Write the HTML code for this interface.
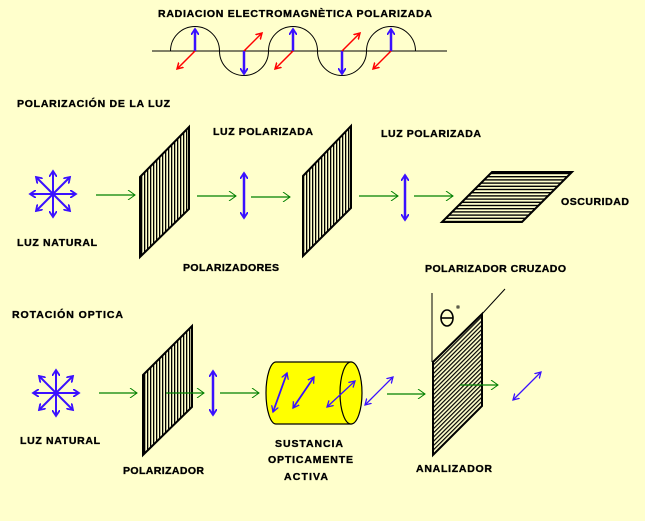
<!DOCTYPE html>
<html><head><meta charset="utf-8"><style>
html,body{margin:0;padding:0;background:#FFFFCC;}
svg{display:block;}
text{font-family:"Liberation Sans",sans-serif;font-weight:bold;font-size:10.5px;fill:#000;stroke:#000;stroke-width:0.35;}
</style></head><body>
<svg width="645" height="521" viewBox="0 0 645 521" xmlns="http://www.w3.org/2000/svg">
<defs>
<pattern id="vl" width="3" height="10" patternUnits="userSpaceOnUse"><rect x="0" y="0" width="1.3" height="10" fill="#000"/></pattern>
<pattern id="hl" width="10" height="3.2" patternUnits="userSpaceOnUse"><rect x="0" y="0" width="10" height="1.4" fill="#000"/></pattern>
<pattern id="dl" width="3" height="3" patternUnits="userSpaceOnUse" patternTransform="rotate(-45)"><rect x="0" y="0" width="3" height="1.2" fill="#000"/></pattern>
<marker id="ga" markerWidth="10" markerHeight="10" refX="8" refY="5" orient="auto" markerUnits="userSpaceOnUse"><path d="M1,0 L8,5 L1,10" fill="none" stroke="#008000" stroke-width="1"/></marker>
<marker id="ba" markerWidth="8" markerHeight="8" refX="6" refY="4" orient="auto-start-reverse" markerUnits="userSpaceOnUse"><path d="M0,0 L6,4 L0,8" fill="none" stroke="#3A10FF" stroke-width="1.8"/></marker>
<marker id="bt" markerWidth="8" markerHeight="8" refX="6" refY="4" orient="auto-start-reverse" markerUnits="userSpaceOnUse"><path d="M0,0.5 L6,4 L0,7.5" fill="none" stroke="#3A10FF" stroke-width="1.3"/></marker>
<marker id="ra" markerWidth="8" markerHeight="8" refX="6" refY="4" orient="auto" markerUnits="userSpaceOnUse"><path d="M0,0.5 L6,4 L0,7.5" fill="none" stroke="#FF0000" stroke-width="1.5"/></marker>
<g id="star" stroke="#3A10FF" stroke-width="2">
<line x1="-23" y1="0" x2="23" y2="0" marker-start="url(#ba)" marker-end="url(#ba)"/>
<line x1="0" y1="-23" x2="0" y2="23" marker-start="url(#ba)" marker-end="url(#ba)"/>
<line x1="-17" y1="-17" x2="17" y2="17" marker-start="url(#ba)" marker-end="url(#ba)"/>
<line x1="-17" y1="17" x2="17" y2="-17" marker-start="url(#ba)" marker-end="url(#ba)"/>
</g>
</defs>

<text x="158" y="17" textLength="274">RADIACION ELECTROMAGNÈTICA POLARIZADA</text>
<line x1="152" y1="51" x2="447" y2="51" stroke="#000" stroke-width="1"/>
<path d="M170.5,51 A24.5,24.5 0 0 1 219.5,51 A24.5,24.5 0 0 0 268.5,51 A24.5,24.5 0 0 1 317.5,51 A24.5,24.5 0 0 0 366.5,51 A24.5,24.5 0 0 1 415.5,51" fill="none" stroke="#000" stroke-width="1"/>
<g stroke="#3A10FF" stroke-width="2.5">
<line x1="195" y1="51" x2="195" y2="29" marker-end="url(#ba)"/>
<line x1="244" y1="51" x2="244" y2="74" marker-end="url(#ba)"/>
<line x1="293" y1="51" x2="293" y2="29" marker-end="url(#ba)"/>
<line x1="342" y1="51" x2="342" y2="74" marker-end="url(#ba)"/>
<line x1="391" y1="51" x2="391" y2="29" marker-end="url(#ba)"/>
</g>
<g stroke="#FF0000" stroke-width="1.5">
<line x1="195" y1="51" x2="177" y2="69" marker-end="url(#ra)"/>
<line x1="244" y1="51" x2="262" y2="33" marker-end="url(#ra)"/>
<line x1="293" y1="51" x2="275" y2="69" marker-end="url(#ra)"/>
<line x1="342" y1="51" x2="360" y2="33" marker-end="url(#ra)"/>
<line x1="391" y1="51" x2="373" y2="69" marker-end="url(#ra)"/>
</g>

<text x="17" y="107" textLength="153">POLARIZACIÓN DE LA LUZ</text>
<use href="#star" x="53" y="194"/>
<text x="17" y="246" textLength="80">LUZ NATURAL</text>
<g stroke="#008000" stroke-width="1.2">
<line x1="96" y1="195" x2="135" y2="195" marker-end="url(#ga)"/>
<line x1="197" y1="196" x2="236" y2="196" marker-end="url(#ga)"/>
<line x1="251" y1="197" x2="290" y2="197" marker-end="url(#ga)"/>
<line x1="359" y1="196" x2="398" y2="196" marker-end="url(#ga)"/>
<line x1="414" y1="196" x2="453" y2="196" marker-end="url(#ga)"/>
</g>
<polygon points="140,177 189,127 189,209 140,257" fill="#FFFFCC" stroke="#000" stroke-width="2"/>
<polygon points="140,177 189,127 189,209 140,257" fill="url(#vl)"/>
<polygon points="303,176 351,126 351,208 303,256" fill="#FFFFCC" stroke="#000" stroke-width="2"/>
<polygon points="303,176 351,126 351,208 303,256" fill="url(#vl)"/>
<polygon points="492,172 572,172 522,222 442,222" fill="#FFFFCC" stroke="#000" stroke-width="2"/>
<polygon points="492,172 572,172 522,222 442,222" fill="url(#hl)"/>
<g stroke="#3A10FF" stroke-width="2.5">
<line x1="244" y1="173" x2="244" y2="218" marker-start="url(#ba)" marker-end="url(#ba)"/>
<line x1="405" y1="175" x2="405" y2="220" marker-start="url(#ba)" marker-end="url(#ba)"/>
</g>
<text x="213" y="135" textLength="100">LUZ POLARIZADA</text>
<text x="381" y="137" textLength="100">LUZ POLARIZADA</text>
<text x="183" y="271" textLength="96">POLARIZADORES</text>
<text x="561" y="205" textLength="68">OSCURIDAD</text>
<text x="425" y="272" textLength="141">POLARIZADOR CRUZADO</text>

<text x="12" y="318" textLength="111">ROTACIÓN OPTICA</text>
<use href="#star" x="56" y="393"/>
<text x="20" y="444" textLength="80">LUZ NATURAL</text>
<polygon points="143,375 192,326 192,407 143,455" fill="#FFFFCC" stroke="#000" stroke-width="2"/>
<polygon points="143,375 192,326 192,407 143,455" fill="url(#vl)"/>
<g stroke="#008000" stroke-width="1.2">
<line x1="99" y1="393" x2="137" y2="393" marker-end="url(#ga)"/>
<line x1="166" y1="393" x2="204" y2="393" marker-end="url(#ga)"/>
<line x1="220" y1="393" x2="259" y2="393" marker-end="url(#ga)"/>
<line x1="387" y1="394" x2="425" y2="394" marker-end="url(#ga)"/>
</g>
<line x1="213" y1="371" x2="213" y2="415" stroke="#3A10FF" stroke-width="2.5" marker-start="url(#ba)" marker-end="url(#ba)"/>
<text x="123" y="474" textLength="81">POLARIZADOR</text>

<path d="M276,362 L351,362 L351,424 L276,424 A10,31 0 0 1 276,362 Z" fill="#FFFF00" stroke="#000" stroke-width="1.2"/>
<ellipse cx="351" cy="393" rx="11" ry="31" fill="#FFFF00" stroke="#000" stroke-width="1.2"/>
<g stroke="#3A10FF" stroke-width="1.8">
<line x1="273" y1="412" x2="287" y2="373" marker-start="url(#bt)" marker-end="url(#bt)"/>
<line x1="293" y1="408" x2="314" y2="377" marker-start="url(#bt)" marker-end="url(#bt)"/>
</g>
<g stroke="#3A10FF" stroke-width="1.3">
<line x1="327" y1="407" x2="355" y2="381" marker-start="url(#bt)" marker-end="url(#bt)"/>
<line x1="365" y1="405" x2="393" y2="377" marker-start="url(#bt)" marker-end="url(#bt)"/>
<line x1="513" y1="400" x2="541" y2="372" marker-start="url(#bt)" marker-end="url(#bt)"/>
</g>
<text x="275" y="447" textLength="68">SUSTANCIA</text>
<text x="268" y="463" textLength="85">OPTICAMENTE</text>
<text x="284" y="480" textLength="44">ACTIVA</text>

<line x1="432" y1="293" x2="432" y2="362" stroke="#000" stroke-width="1"/>
<line x1="482" y1="314" x2="505" y2="289" stroke="#000" stroke-width="1"/>
<polygon points="433,362 482,314 482,406 433,455" fill="#FFFFCC"/>
<polygon points="433,362 482,314 482,406 433,455" fill="url(#dl)"/>
<polygon points="433,362 482,314 482,406 433,455" fill="none" stroke="#000" stroke-width="2"/>
<line x1="460" y1="385" x2="498" y2="385" stroke="#008000" stroke-width="1.2" marker-end="url(#ga)"/>
<ellipse cx="447" cy="318" rx="6" ry="8" fill="none" stroke="#000" stroke-width="1.6"/>
<line x1="441" y1="318" x2="453" y2="318" stroke="#000" stroke-width="1.6"/>
<rect x="457" y="306" width="2" height="2" fill="none" stroke="#000" stroke-width="0.8"/>
<text x="416" y="472" textLength="76">ANALIZADOR</text>
</svg>
</body></html>
